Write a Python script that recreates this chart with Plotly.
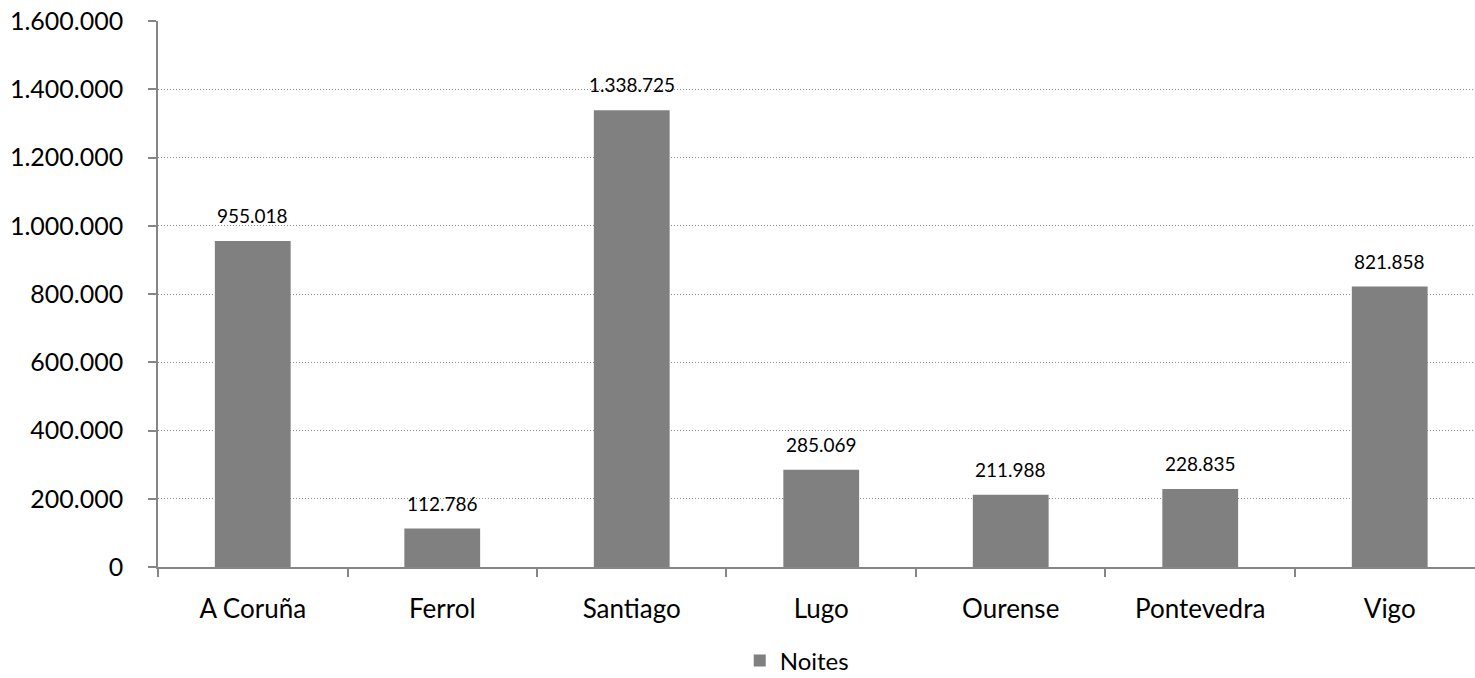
import plotly.graph_objects as go

categories = ["A Coruña", "Ferrol", "Santiago", "Lugo", "Ourense", "Pontevedra", "Vigo"]
noites = [955018, 112786, 1338725, 285069, 211988, 228835, 821858]
y_ticks = [0, 200000, 400000, 600000, 800000, 1000000, 1200000, 1400000, 1600000]

labels = [f"{v:,}".replace(",", ".") for v in noites]
FONT = "Lato, Open Sans, sans-serif"

fig = go.Figure()
fig.add_trace(go.Bar(
    x=categories, y=noites, name="Noites",
    marker=dict(color="#808080", line=dict(width=0)),
    width=0.4,
    cliponaxis=False,
))

for c, v, t in zip(categories, noites, labels):
    fig.add_annotation(x=c, y=v, text=t, showarrow=False, yanchor="bottom",
                       yshift=12, font=dict(family=FONT, size=19, color="#000000"))

fig.update_layout(
    width=1475, height=678,
    margin=dict(l=158, r=0, t=21, b=111, autoexpand=False),
    paper_bgcolor="white", plot_bgcolor="white",
    separators=",.",
    font=dict(family=FONT, size=25, color="#000000"),
    showlegend=True,
    legend=dict(orientation="h", x=0.485, xanchor="center", y=-0.172, yanchor="middle",
                font=dict(size=24), bgcolor="rgba(0,0,0,0)"),
    bargap=0.6,
)
fig.update_xaxes(
    type="category", range=[-0.5, 6.45], automargin=False,
    showline=True, linecolor="#868686", linewidth=1.5,
    ticks="outside", tickson="boundaries", ticklen=8, tickcolor="#868686", tickwidth=1.5,
    showgrid=False, tickfont=dict(size=26), ticklabelstandoff=18,
)
fig.update_yaxes(
    range=[0, 1600000], tickvals=y_ticks, tickformat=",d", automargin=False,
    showline=True, linecolor="#868686", linewidth=1.5,
    ticks="outside", ticklen=8, tickcolor="#868686", tickwidth=1.5,
    showgrid=True, gridcolor="#8c8c8c", griddash="1px,2px", gridwidth=1,
    zeroline=False, tickfont=dict(size=25), ticklabelstandoff=20,
)

fig.write_html("out.html", config={"displayModeBar": False},
               post_script="document.body.style.margin='0px';document.body.style.overflow='hidden';")
